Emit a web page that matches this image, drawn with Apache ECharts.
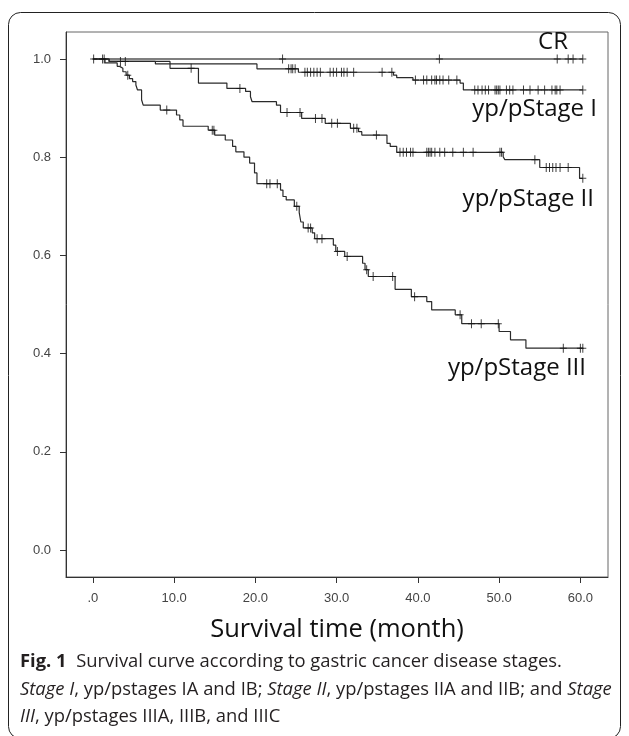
<!DOCTYPE html>
<html>
<head>
<meta charset="utf-8">
<script src="https://cdn.jsdelivr.net/npm/echarts@6/dist/echarts.min.js"></script>
<style>
  html, body { margin: 0; padding: 0; background: #fff; }
  #main { width: 629px; height: 736px; }
</style>
</head>
<body>
<div id="main"></div>
<script>
// x ticks / y ticks
var xTicks = [0, 10, 20, 30, 40, 50, 60];
var yTicks = [0, 0.2, 0.4, 0.6, 0.8, 1.0];
var endTime = 60.3;

// CR: no events, censored only
var crTime = [];
var crSurv = [];
var crCens = [0.1, 23.35, 42.65, 57.15, 58.5, 59.1, 60.3];

// yp/pStage I
var s1Time = [2.0, 7.7, 20.2, 25.3, 37.0, 37.4, 39.4, 45.2, 45.6];
var s1Surv = [0.995, 0.99, 0.98, 0.973, 0.967, 0.962, 0.957, 0.951, 0.937];
var s1Cens = [1.2, 4.0, 24.1, 24.4, 24.6, 24.9, 26.1, 26.4, 26.8, 27.2, 27.6, 28.0,
  29.2, 29.6, 30.0, 30.6, 30.9, 31.3, 32.1, 35.6, 36.8, 39.7, 40.7, 41.1, 41.7,
  42.1, 42.3, 42.7, 43.1, 43.8, 44.8, 47.0, 47.4, 47.9, 48.3, 48.7, 49.5, 49.7,
  49.9, 50.1, 50.9, 51.3, 51.7, 53.0, 53.8, 54.8, 55.6, 56.5, 56.9, 57.1, 57.5, 60.3];

// yp/pStage II
var s2Time = [2.0, 9.5, 13.0, 16.5, 18.8, 19.4, 19.6, 22.6, 23.1, 25.7, 28.6, 31.7,
  32.7, 33.1, 36.2, 36.6, 37.4, 50.5, 50.7, 55.0, 59.9];
var s2Surv = [0.995, 0.981, 0.951, 0.94, 0.934, 0.923, 0.913, 0.906, 0.891, 0.879,
  0.869, 0.859, 0.852, 0.845, 0.828, 0.822, 0.81, 0.801, 0.795, 0.779, 0.757];
var s2Cens = [1.4, 3.4, 12.1, 18.1, 23.9, 25.5, 27.4, 28.2, 29.4, 30.1, 32.1, 32.5,
  34.9, 37.8, 38.2, 38.6, 39.1, 39.4, 41.1, 41.3, 41.5, 41.7, 42.1, 42.7, 43.3,
  44.3, 45.6, 46.8, 50.1, 50.3, 54.4, 55.8, 56.2, 56.6, 57.0, 57.5, 58.5, 60.3];

// yp/pStage III
var s3Time = [1.5, 3.0, 3.3, 3.7, 4.1, 4.5, 4.9, 5.3, 5.5, 6.0, 6.2, 8.3, 10.3, 10.7,
  11.1, 14.2, 15.0, 16.3, 17.2, 17.6, 18.6, 19.3, 19.9, 20.2, 23.1, 23.4, 23.8,
  24.8, 25.4, 25.6, 25.9, 27.0, 27.3, 29.6, 29.9, 31.0, 33.2, 33.5, 33.9, 37.2,
  39.2, 41.1, 41.7, 44.6, 45.4, 50.0, 51.4, 53.3];
var s3Surv = [0.992, 0.985, 0.981, 0.974, 0.967, 0.96, 0.954, 0.947, 0.937, 0.917,
  0.906, 0.896, 0.886, 0.876, 0.863, 0.855, 0.845, 0.835, 0.822, 0.811, 0.8, 0.788,
  0.768, 0.746, 0.733, 0.72, 0.713, 0.7, 0.687, 0.668, 0.656, 0.646, 0.634, 0.621,
  0.608, 0.598, 0.584, 0.571, 0.557, 0.531, 0.516, 0.506, 0.489, 0.479, 0.461,
  0.445, 0.428, 0.411];
var s3Cens = [4.3, 9.1, 14.7, 14.9, 21.4, 21.8, 22.7, 25.1, 26.5, 26.8, 27.6, 28.2,
  30.1, 31.3, 33.7, 34.5, 36.9, 39.6, 45.2, 46.6, 47.8, 49.9, 57.9, 60.0, 60.3];

function stepData(times, surv) {
  var d = [[0, 1]];
  for (var i = 0; i < times.length; i++) d.push([times[i], surv[i]]);
  d.push([endTime, surv.length ? surv[surv.length - 1] : 1]);
  return d;
}
function survAt(times, surv, t) {
  var s = 1;
  for (var i = 0; i < times.length; i++) {
    if (times[i] <= t) s = surv[i];
  }
  return s;
}
function censData(times, surv, cens) {
  return cens.map(function (t) { return [t, survAt(times, surv, t)]; });
}

var plus = 'path://M3,0 L4,0 L4,4 L7,4 L7,5 L4,5 L4,9 L3,9 L3,5 L0,5 L0,4 L3,4 Z';
var lineCol = '#2a2a2a';

function curve(name, times, surv, color, width) {
  return {
    name: name, type: 'line', step: 'end', showSymbol: false,
    data: stepData(times, surv),
    lineStyle: { color: color, width: width },
    silent: true, z: 2
  };
}
function marks(name, times, surv, cens) {
  return {
    name: name + ' censored', type: 'scatter', symbol: plus, symbolSize: [7, 9],
    symbolKeepAspect: false,
    data: censData(times, surv, cens),
    itemStyle: { color: '#111' }, silent: true, z: 3
  };
}

var labelFont = '24px "Open Sans"';
var capSize = 18.4;
var capFont = capSize + 'px "Open Sans"';
var capCol = '#231f20';

var option = {
  animation: false,
  grid: {
    left: 66, top: 32, right: 21, bottom: 159,
    show: true, borderColor: '#666', borderWidth: 1
  },
  xAxis: {
    type: 'value', min: -3.3, max: 63.4,
    axisLine: { show: true, onZero: false, lineStyle: { color: '#333' } },
    axisTick: { show: true, length: 6, customValues: xTicks, lineStyle: { color: '#333' } },
    axisLabel: {
      customValues: xTicks, margin: 15, color: '#444', fontSize: 13,
      fontFamily: 'Liberation Sans',
      formatter: function (v) { return v === 0 ? '.0' : v.toFixed(1); }
    },
    splitLine: { show: false },
    name: 'Survival time (month)', nameLocation: 'middle', nameGap: 40,
    nameTextStyle: { fontFamily: 'Open Sans', fontSize: 25.5, color: '#111' }
  },
  yAxis: {
    type: 'value', min: -0.055, max: 1.055,
    axisLine: { show: true, onZero: false, lineStyle: { color: '#333' } },
    axisTick: { show: true, length: 6, customValues: yTicks, lineStyle: { color: '#333' } },
    axisLabel: {
      customValues: yTicks, margin: 15, color: '#444', fontSize: 13,
      fontFamily: 'Liberation Sans',
      formatter: function (v) { return v.toFixed(1); }
    },
    splitLine: { show: false }
  },
  series: [
    curve('CR', crTime, crSurv, '#555', 1.5),
    curve('yp/pStage I', s1Time, s1Surv, lineCol, 1.2),
    curve('yp/pStage II', s2Time, s2Surv, lineCol, 1.2),
    curve('yp/pStage III', s3Time, s3Surv, lineCol, 1.2),
    marks('CR', crTime, crSurv, crCens),
    marks('yp/pStage I', s1Time, s1Surv, s1Cens),
    marks('yp/pStage II', s2Time, s2Surv, s2Cens),
    marks('yp/pStage III', s3Time, s3Surv, s3Cens)
  ],
  graphic: [
    { type: 'rect', shape: { x: 8.5, y: 12.5, width: 612, height: 726, r: 12 },
      style: { fill: 'none', stroke: '#222', lineWidth: 1 }, z: 0, silent: true },
    { type: 'text', x: 568, y: 42, style: { text: 'CR', font: labelFont, fill: '#111', textAlign: 'right', textVerticalAlign: 'middle' } },
    { type: 'text', x: 597, y: 109, style: { text: 'yp/pStage I', font: labelFont, fill: '#111', textAlign: 'right', textVerticalAlign: 'middle' } },
    { type: 'text', x: 594, y: 199, style: { text: 'yp/pStage II', font: labelFont, fill: '#111', textAlign: 'right', textVerticalAlign: 'middle' } },
    { type: 'text', x: 586, y: 368, style: { text: 'yp/pStage III', font: labelFont, fill: '#111', textAlign: 'right', textVerticalAlign: 'middle' } },
    { type: 'text', x: 20, y: 662, style: {
        text: '{b|Fig. 1}  Survival curve according to gastric cancer disease stages.',
        font: capFont, fill: capCol, textVerticalAlign: 'middle',
        rich: { b: { font: 'bold ' + capFont, fill: capCol } } } },
    { type: 'text', x: 20, y: 690, style: {
        text: '{i|Stage I}, yp/pstages IA and IB; {i|Stage II}, yp/pstages IIA and IIB; and {i|Stage}',
        font: capFont, fill: capCol, textVerticalAlign: 'middle',
        rich: { i: { font: 'italic ' + capFont, fill: capCol } } } },
    { type: 'text', x: 20, y: 717, style: {
        text: '{i|III}, yp/pstages IIIA, IIIB, and IIIC',
        font: capFont, fill: capCol, textVerticalAlign: 'middle',
        rich: { i: { font: 'italic ' + capFont, fill: capCol } } } }
  ]
};

var chart = echarts.init(document.getElementById('main'));
chart.setOption(option);
</script>
</body>
</html>
